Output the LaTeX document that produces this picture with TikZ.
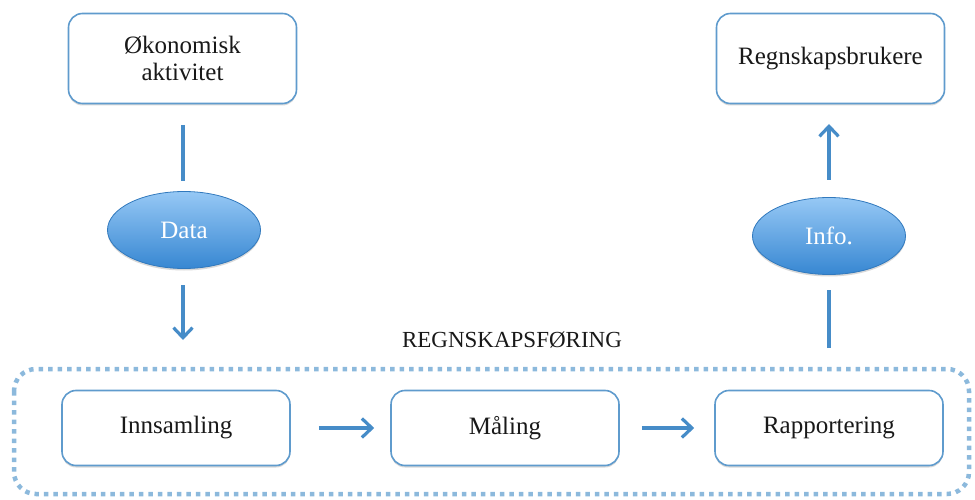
\documentclass[tikz,border=0pt]{standalone}
\usepackage{fontspec}
\setmainfont{Liberation Serif}
\usetikzlibrary{shapes.geometric,arrows.meta,shadows}
\definecolor{boxblue}{RGB}{95,155,205}
\definecolor{arrblue}{RGB}{70,140,200}
\definecolor{dotblue}{RGB}{140,185,220}
\definecolor{elltop}{RGB}{150,200,245}
\definecolor{ellbot}{RGB}{55,135,210}
\definecolor{txt}{RGB}{25,25,25}
\tikzset{
  rbox/.style={draw=boxblue, line width=1.6pt, rounded corners=14pt, fill=white,
    minimum width=228pt, minimum height=90pt, align=center, text=txt,
    font=\fontsize{25}{27}\selectfont,
    drop shadow={shadow xshift=0pt, shadow yshift=-2pt, opacity=0.25, fill=black!60}},
  sbox/.style={rbox, minimum height=75pt},
  ell/.style={ellipse, draw=ellbot!90!black, line width=0.8pt, top color=elltop, bottom color=ellbot,
    minimum width=153pt, minimum height=77pt, text=white, font=\fontsize{25}{27}\selectfont,
    drop shadow={shadow xshift=0pt, shadow yshift=-2pt, opacity=0.25, fill=black!60}},
  conn/.style={draw=arrblue, line width=3.2pt},
  arr/.style={conn, -{Straight Barb[length=10pt, width=19pt, line width=3.2pt]}},
}
\begin{document}
\begin{tikzpicture}[x=1pt, y=-1pt]
\useasboundingbox (0,0) rectangle (975,500);
% dotted group
\draw[dotblue, line width=4.5pt, dash pattern=on 4.5pt off 5pt, rounded corners=22pt]
  (14,369) rectangle (969,494);
\node[font=\fontsize{23}{25}\selectfont, text=txt] (title) at (512,340) {REGNSKAPSFØRING};

\node[rbox] (oek) at (182.5,58.5) {Økonomisk\\aktivitet};
\node[rbox] (brk) at (830.5,58.5) {Regnskapsbrukere};
\node[ell] (data) at (184,230) {Data};
\node[ell] (info) at (829,236) {Info.};
\node[sbox] (inn) at (176,428) {Innsamling};
\node[sbox] (mal) at (505,428) {Måling};
\node[sbox] (rap) at (829,428) {Rapportering};

\coordinate (a1) at (183,125);
\coordinate (a2) at (183,181);
\coordinate (b1) at (183,285);
\coordinate (b2) at (183,340);
\coordinate (c1) at (829,290);
\coordinate (c2) at (829,348);
\coordinate (d1) at (829,180);
\coordinate (d2) at (829,124);
\draw[conn] (a1) -- (a2);
\draw[arr] (b1) -- (b2);
\draw[conn] (c2) -- (c1);
\draw[arr] (d1) -- (d2);
\draw[arr] ([xshift=28pt]inn.east) -- ([xshift=-16pt]mal.west);
\draw[arr] ([xshift=22pt]mal.east) -- ([xshift=-20pt]rap.west);
\end{tikzpicture}
\end{document}
